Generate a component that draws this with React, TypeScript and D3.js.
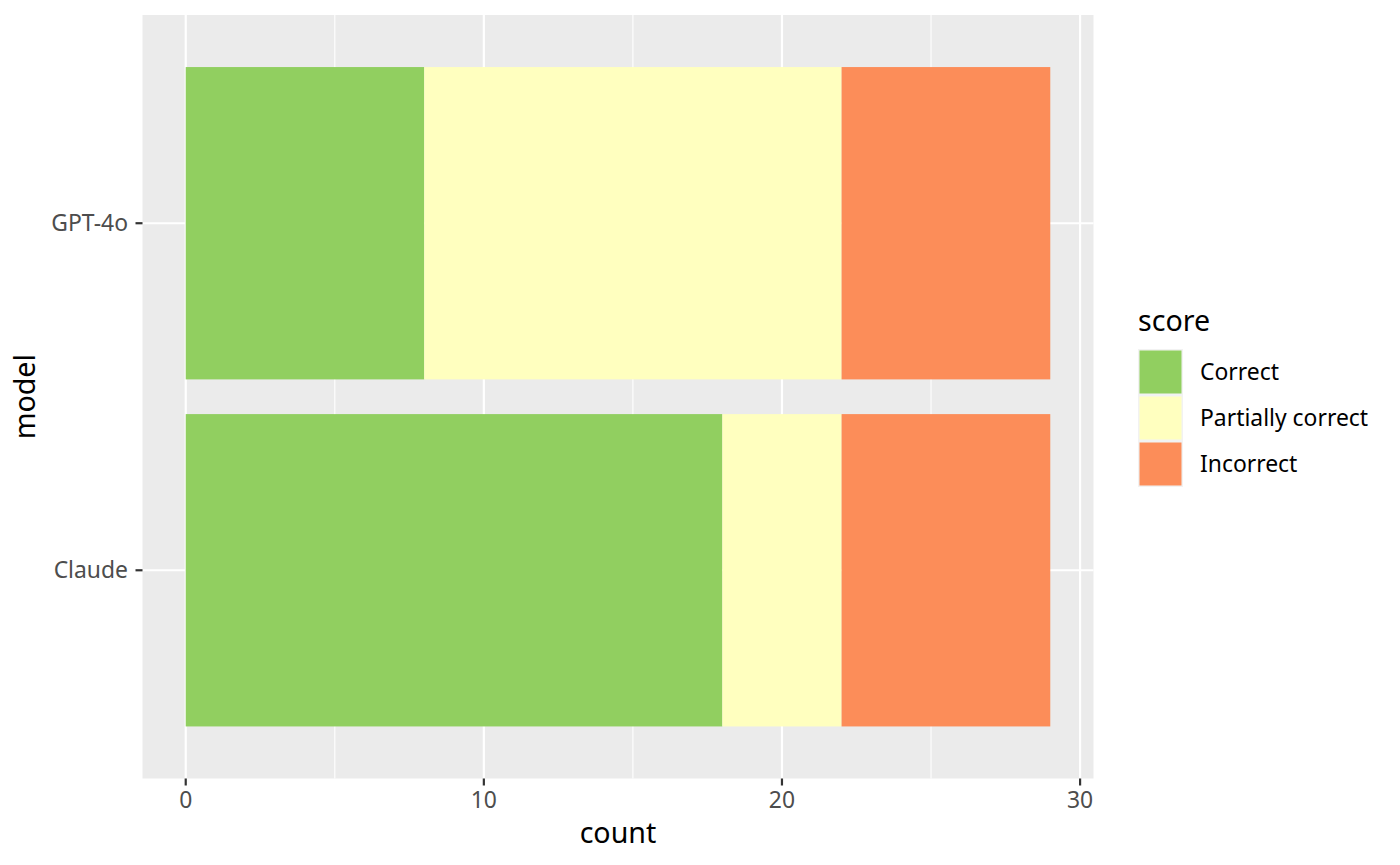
import { useEffect, useRef } from "react";
import * as d3 from "d3";

const width = 1400;
const height = 865;

const models = ["GPT-4o", "Claude"];
const scores = ["Correct", "Partially correct", "Incorrect"];
const correct = [8, 18];
const partial = [14, 4];
const incorrect = [7, 7];
const colors = ["#91CF60", "#FFFFBF", "#FC8D59"];
const xTicks = [0, 10, 20, 30];
const xMinor = [5, 15, 25];

const font = "'Noto Sans', sans-serif";
const tickSize = 22.9;
const titleSize = 28.6;

export default function App() {
    const ref = useRef<SVGSVGElement>(null);

    useEffect(() => {
        const svg = d3.select(ref.current);
        svg.selectAll("*").remove();

        const panel = { left: 142.5, right: 1093.5, top: 15, bottom: 778.5 };
        const maxTotal = d3.max(models.map((_, i) => correct[i] + partial[i] + incorrect[i]))!;
        const pad = maxTotal * 0.05;

        const x = d3.scaleLinear()
            .domain([-pad, maxTotal + pad])
            .range([panel.left, panel.right]);
        const y = d3.scalePoint<string>()
            .domain(models)
            .range([panel.top, panel.bottom])
            .padding(0.6);
        const barH = y.step() * 0.9;

        // panel background
        svg.append("rect")
            .attr("x", panel.left).attr("y", panel.top)
            .attr("width", panel.right - panel.left)
            .attr("height", panel.bottom - panel.top)
            .attr("fill", "#EBEBEB");

        // grid
        svg.selectAll("line.minor").data(xMinor).enter().append("line")
            .attr("x1", d => x(d)).attr("x2", d => x(d))
            .attr("y1", panel.top).attr("y2", panel.bottom)
            .attr("stroke", "white").attr("stroke-width", 1.1);
        svg.selectAll("line.major").data(xTicks).enter().append("line")
            .attr("x1", d => x(d)).attr("x2", d => x(d))
            .attr("y1", panel.top).attr("y2", panel.bottom)
            .attr("stroke", "white").attr("stroke-width", 2.2);
        svg.selectAll("line.hmajor").data(models).enter().append("line")
            .attr("x1", panel.left).attr("x2", panel.right)
            .attr("y1", d => y(d)!).attr("y2", d => y(d)!)
            .attr("stroke", "white").attr("stroke-width", 2.2);

        // stacked bars
        const rows = models.map((m, i) => ({
            model: m,
            Correct: correct[i],
            "Partially correct": partial[i],
            Incorrect: incorrect[i],
        }));
        const stack = d3.stack<any>().keys(scores)(rows);

        stack.forEach((layer, k) => {
            svg.selectAll(`rect.s${k}`).data(layer).enter().append("rect")
                .attr("x", d => x(d[0]))
                .attr("width", d => x(d[1]) - x(d[0]))
                .attr("y", d => y(d.data.model)! - barH / 2)
                .attr("height", barH)
                .attr("fill", colors[k]);
        });

        // x axis
        const xa = svg.append("g");
        xTicks.forEach(t => {
            xa.append("line")
                .attr("x1", x(t)).attr("x2", x(t))
                .attr("y1", panel.bottom).attr("y2", panel.bottom + 7)
                .attr("stroke", "#333333").attr("stroke-width", 2.2);
            xa.append("text")
                .attr("x", x(t)).attr("y", 808)
                .attr("text-anchor", "middle")
                .attr("font-family", font).attr("font-size", tickSize)
                .attr("fill", "#4D4D4D")
                .text(t);
        });

        // y axis
        models.forEach(m => {
            svg.append("line")
                .attr("x1", panel.left - 7).attr("x2", panel.left)
                .attr("y1", y(m)!).attr("y2", y(m)!)
                .attr("stroke", "#333333").attr("stroke-width", 2.2);
            svg.append("text")
                .attr("x", 128).attr("y", y(m)!)
                .attr("dy", "0.35em")
                .attr("text-anchor", "end")
                .attr("font-family", font).attr("font-size", tickSize)
                .attr("fill", "#4D4D4D")
                .text(m);
        });

        // axis titles
        svg.append("text")
            .attr("x", (panel.left + panel.right) / 2).attr("y", 842.5)
            .attr("text-anchor", "middle")
            .attr("font-family", font).attr("font-size", titleSize)
            .attr("fill", "black")
            .text("count");
        svg.append("text")
            .attr("transform", `translate(35,${(panel.top + panel.bottom) / 2}) rotate(-90)`)
            .attr("text-anchor", "middle")
            .attr("font-family", font).attr("font-size", titleSize)
            .attr("fill", "black")
            .text("model");

        // legend
        const lg = svg.append("g").attr("transform", "translate(1138,0)");
        lg.append("text")
            .attr("x", 0).attr("y", 331)
            .attr("font-family", font).attr("font-size", titleSize)
            .attr("fill", "black")
            .text("score");
        scores.forEach((s, k) => {
            const ky = 349 + k * 46;
            lg.append("rect")
                .attr("x", 0).attr("y", ky)
                .attr("width", 45).attr("height", 46)
                .attr("fill", "#F2F2F2");
            lg.append("rect")
                .attr("x", 1.5).attr("y", ky + 1.5)
                .attr("width", 42).attr("height", 43)
                .attr("fill", colors[k]);
            lg.append("text")
                .attr("x", 62).attr("y", ky + 23)
                .attr("dy", "0.35em")
                .attr("font-family", font).attr("font-size", tickSize)
                .attr("fill", "black")
                .text(s);
        });

        return () => {
            svg.selectAll("*").remove();
        };
    }, [ref]);

    return (
        <svg
            ref={ref}
            width={width}
            height={height}
            style={{ position: "absolute", left: 0, top: 0, background: "white" }}
        />
    );
}
